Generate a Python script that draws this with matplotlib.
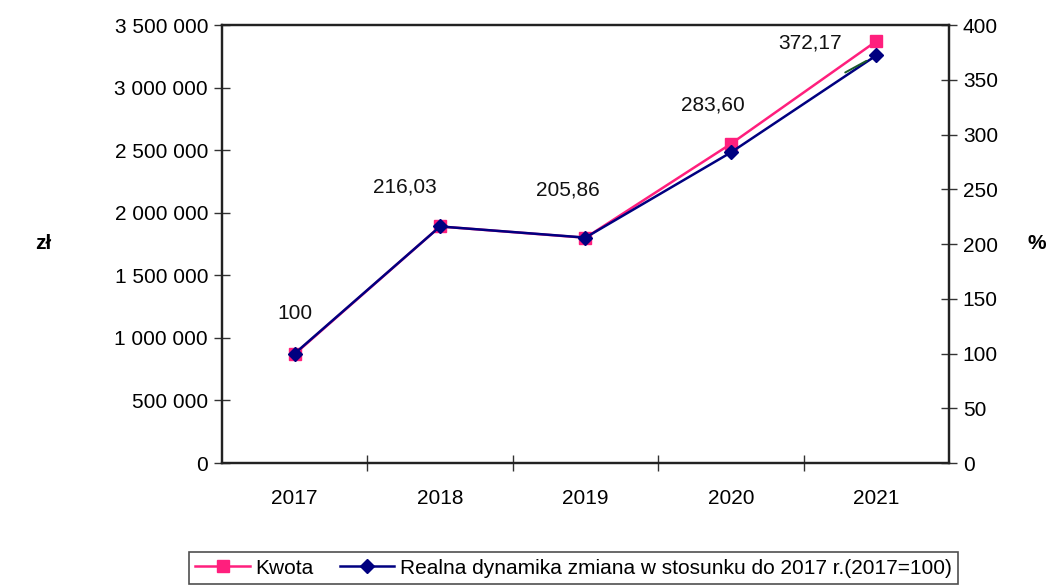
import matplotlib
matplotlib.use("Agg")
import matplotlib.pyplot as plt
from matplotlib.ticker import FuncFormatter, MultipleLocator, FixedLocator

plt.rcParams['font.family'] = ['Liberation Sans', 'DejaVu Sans']

years = ["2017", "2018", "2019", "2020", "2021"]
kwota = [870000, 1890000, 1800000, 2550000, 3370000]
dynamika = [100, 216.03, 205.86, 283.60, 372.17]
dynamika_labels = ["100", "216,03", "205,86", "283,60", "372,17"]

PINK = "#ff1f7d"
NAVY = "#000080"

fig = plt.figure(figsize=(10.56, 5.87), dpi=100)
ax = fig.add_axes([0.2102, 0.2112, 0.6884, 0.7462])
ax2 = ax.twinx()

x = list(range(len(years)))

l1, = ax.plot(x, kwota, color=PINK, lw=1.8, marker='s', ms=8, zorder=3,
              label="Kwota")
l2, = ax2.plot(x, dynamika, color=NAVY, lw=1.8, marker='D', ms=7, zorder=4,
               label="Realna dynamika zmiana w stosunku do 2017 r.(2017=100)")

ax.set_xlim(-0.5, len(years) - 0.5)
ax.set_ylim(0, 3500000)
ax2.set_ylim(0, 400)

ax.yaxis.set_major_locator(MultipleLocator(500000))
ax.yaxis.set_major_formatter(FuncFormatter(lambda v, p: f"{int(v):,}".replace(",", " ")))
ax2.yaxis.set_major_locator(MultipleLocator(50))

ax.set_xticks(x)
ax.set_xticklabels(years)
ax.xaxis.set_minor_locator(FixedLocator([i + 0.5 for i in x[:-1]]))
ax.tick_params(axis='x', which='major', length=0, pad=19, labelsize=15)
ax.tick_params(axis='x', which='minor', direction='inout', length=12, width=1, color='#333333')
ax.tick_params(axis='y', direction='inout', length=12, width=1, labelsize=15, pad=4, color='#333333')
ax2.tick_params(axis='y', direction='inout', length=12, width=1, labelsize=15, pad=4, color='#333333')

for a in (ax, ax2):
    for s in a.spines.values():
        s.set_linewidth(1.6)
        s.set_color('#222222')

# value labels of the real dynamics series
offsets = [(0, 40), (-35, 39), (-18, 48), (-18, 47), (-66, 12)]
for i, (v, lab) in enumerate(zip(dynamika, dynamika_labels)):
    ax2.annotate(lab, xy=(i, v), xytext=offsets[i], textcoords='offset pixels',
                 ha='center', va='center', fontsize=15, color='#111111', zorder=6)

# short leader line towards the last point
ax2.annotate("", xy=(len(years) - 1, dynamika[-1]), xytext=(-31, -17), textcoords='offset pixels',
             arrowprops=dict(arrowstyle='-', color='#1a5a2a', lw=1.4, shrinkA=0, shrinkB=8), zorder=5)

fig.text(0.041, 0.585, "zł", fontsize=15, fontweight='bold', ha='center', va='center')
fig.text(0.982, 0.585, "%", fontsize=15, fontweight='bold', ha='center', va='center')

leg = fig.legend(handles=[l1, l2], loc='lower center', bbox_to_anchor=(0.543, 0.0),
                 ncol=2, fontsize=15, frameon=True, fancybox=False, edgecolor='#222222',
                 handlelength=2.6, columnspacing=1.3, handletextpad=0.25, borderpad=0.3,
                 borderaxespad=0.15)
leg.get_frame().set_linewidth(1.2)

fig.savefig("out.png", dpi=100)
